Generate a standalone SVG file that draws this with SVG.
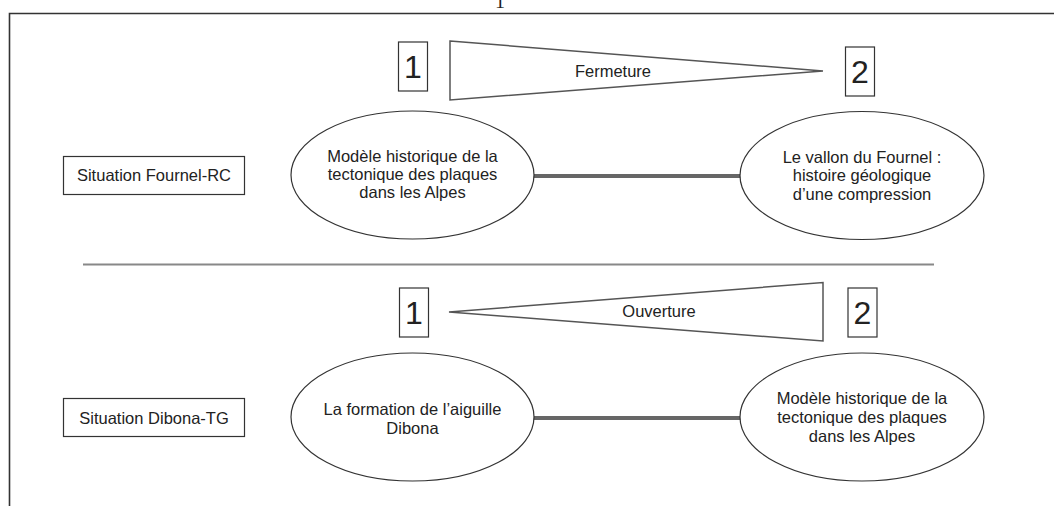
<svg xmlns="http://www.w3.org/2000/svg" width="1054" height="506" viewBox="0 0 1054 506">
<style>
.t{font-family:"Liberation Sans",Arial,sans-serif;font-size:16.5px;fill:#222;text-anchor:middle}
.d{font-family:"Liberation Sans",Arial,sans-serif;font-size:32px;fill:#222;text-anchor:middle}
.box{fill:#fff;stroke:#333;stroke-width:1.2}
.ell{fill:#fff;stroke:#333;stroke-width:1.2}
.tri{fill:#fff;stroke:#555;stroke-width:1.5;stroke-linejoin:miter}
.con{stroke:#666;stroke-width:4;fill:none}
</style>
<rect width="1054" height="506" fill="#fff"/>
<text x="500" y="8" style="font-family:'Liberation Serif',serif;font-size:20px;fill:#222" text-anchor="middle">1</text>
<path d="M9.5 506 V13.5 H1054" fill="none" stroke="#333" stroke-width="1.6"/>
<line x1="83" y1="264.5" x2="934" y2="264.5" stroke="#888" stroke-width="2"/>
<g id="connectors">
<line class="con" x1="533" y1="176" x2="741" y2="176"/>
<line class="con" x1="533" y1="418" x2="741" y2="418"/>
</g>
<g id="label-fournel"><rect class="box" x="63.5" y="156.5" width="181" height="38"/><text class="t" x="154" y="181">Situation Fournel-RC</text></g>
<g id="label-dibona"><rect class="box" x="63.5" y="398.5" width="181" height="38"/><text class="t" x="154" y="423.5">Situation Dibona-TG</text></g>
<g id="num1-top"><rect class="box" x="398.5" y="42" width="29" height="49"/><text class="d" x="413" y="78">1</text></g>
<g id="num2-top"><rect class="box" x="845.5" y="47" width="29" height="49"/><text class="d" x="860" y="83">2</text></g>
<g id="fermeture"><polygon class="tri" points="450,41 823,71 450,100"/><text class="t" x="613" y="77">Fermeture</text></g>
<g id="num1-bot"><rect class="box" x="399.5" y="288" width="29" height="49"/><text class="d" x="414" y="323.5">1</text></g>
<g id="num2-bot"><rect class="box" x="848" y="288" width="29" height="49"/><text class="d" x="862.5" y="323.5">2</text></g>
<g id="ouverture"><polygon class="tri" points="449,312 823,282.5 823,341"/><text class="t" x="659" y="317">Ouverture</text></g>
<g id="node-modele-top"><ellipse class="ell" cx="412.5" cy="175" rx="121.5" ry="64"/>
<text class="t" x="412.5" y="162">Modèle historique de la</text>
<text class="t" x="412.5" y="180">tectonique des plaques</text>
<text class="t" x="412.5" y="198">dans les Alpes</text></g>
<g id="node-vallon"><ellipse class="ell" cx="862" cy="175.5" rx="122" ry="64"/>
<text class="t" x="862" y="162.5">Le vallon du Fournel :</text>
<text class="t" x="862" y="181">histoire géologique</text>
<text class="t" x="862" y="199.5">d’une compression</text></g>
<g id="node-dibona"><ellipse class="ell" cx="412.5" cy="417" rx="121.5" ry="64"/>
<text class="t" x="412.5" y="414.5">La formation de l’aiguille</text>
<text class="t" x="412.5" y="433.5">Dibona</text></g>
<g id="node-modele-bot"><ellipse class="ell" cx="862" cy="417" rx="122" ry="64"/>
<text class="t" x="862" y="404">Modèle historique de la</text>
<text class="t" x="862" y="423">tectonique des plaques</text>
<text class="t" x="862" y="442">dans les Alpes</text></g>
</svg>
